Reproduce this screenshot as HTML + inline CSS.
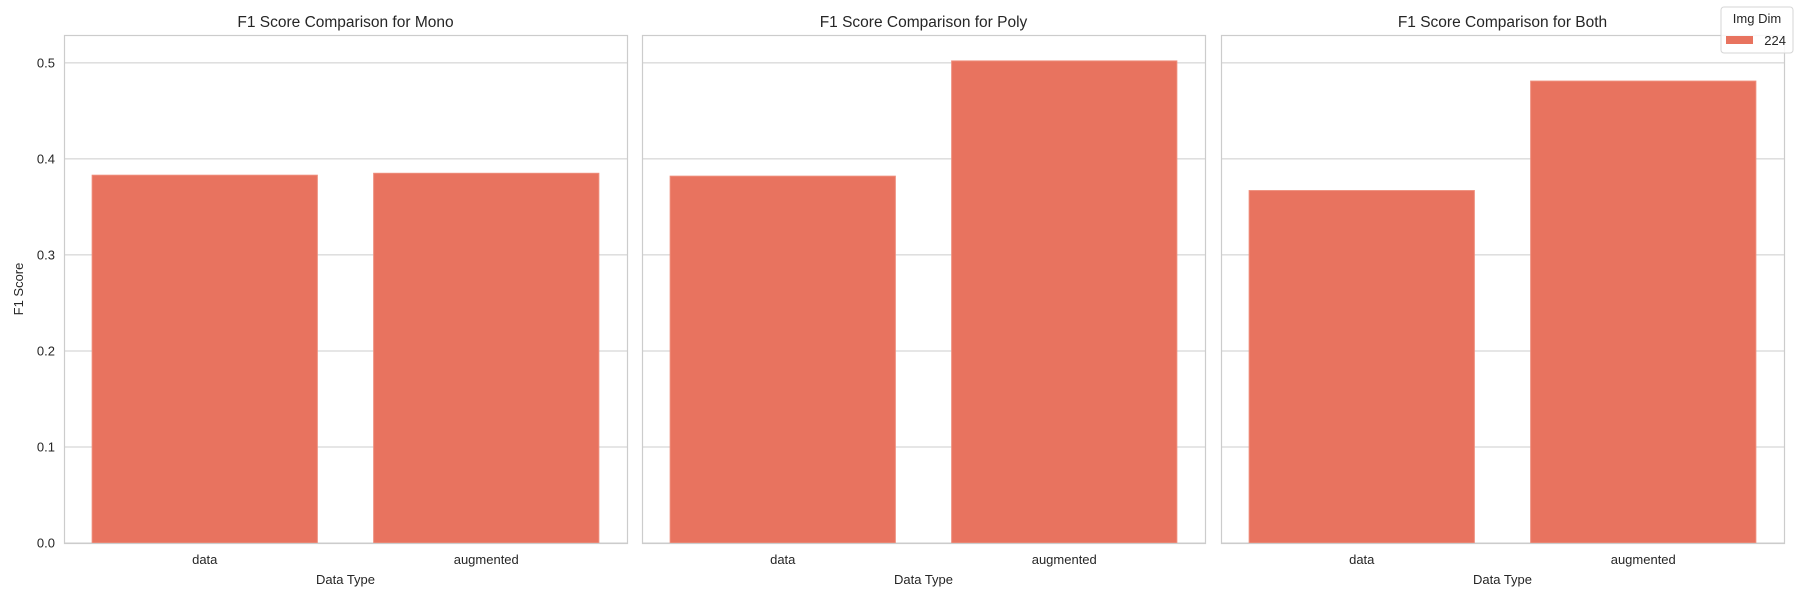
<!DOCTYPE html>
<html><head><meta charset="utf-8"><style>
body{margin:0;background:#fff;}
svg{display:block;font-family:"Liberation Sans",Arial,sans-serif;fill:#262626;}
</style></head><body>
<svg id="chart" width="1800" height="600" xmlns="http://www.w3.org/2000/svg"></svg>
<script>
const panels = ["Mono", "Poly", "Both"];
const categories = ["data", "augmented"];
const monoValues = [0.383, 0.385];
const polyValues = [0.382, 0.502];
const bothValues = [0.367, 0.481];
const yTicks = [0.0, 0.1, 0.2, 0.3, 0.4, 0.5];
const yTickLabels = ["0.0", "0.1", "0.2", "0.3", "0.4", "0.5"];
const seriesValues = [monoValues, polyValues, bothValues];

const svg = document.getElementById('chart');
const NS = 'http://www.w3.org/2000/svg';
const panelLeft = [64, 642, 1221];
const panelW = 563, yTop = 35, yBottom = 543, yMax = 0.529;
function yScale(v){ return yBottom - v / yMax * (yBottom - yTop); }
function xBand(p, i){ return panelLeft[p] + (i + 0.5) * panelW / categories.length; }
function mk(tag, attrs, text){
  const e = document.createElementNS(NS, tag);
  for (const k in attrs) e.setAttribute(k, attrs[k]);
  if (text !== undefined) e.textContent = text;
  svg.appendChild(e);
  return e;
}
panels.forEach((name, p) => {
  const x0 = panelLeft[p];
  yTicks.forEach((t, k) => {
    const g = mk('line', {x1:x0, x2:x0+panelW, y1:yScale(t), y2:yScale(t), stroke:'#cccccc', 'stroke-width':1});
    
    
    if (p === 0) {
      const l = mk('text', {x:x0-9, y:yScale(t)+4.5, 'text-anchor':'end', 'font-size':13}, yTickLabels[k]);
      
      
    }
  });
  const bw = panelW / categories.length * 0.8;
  seriesValues[p].forEach((v, i) => {
    const b = mk('rect', {x:xBand(p,i)-bw/2, y:yScale(v), width:bw, height:yScale(0)-yScale(v), fill:'#e8735f', stroke:'#ee8c7a', 'stroke-width':1});
    
    
    const tl = mk('text', {x:xBand(p,i), y:yBottom+21, 'text-anchor':'middle', 'font-size':13}, categories[i]);
    
    
  });
  const fr = mk('rect', {x:x0+0.5, y:yTop+0.5, width:panelW, height:yBottom-yTop, fill:'none', stroke:'#cccccc', 'stroke-width':1.2});
  
  
  const ti = mk('text', {x:x0+panelW/2, y:27, 'text-anchor':'middle', 'font-size':15.5}, 'F1 Score Comparison for ' + name);
  
  
  const xl = mk('text', {x:x0+panelW/2, y:584, 'text-anchor':'middle', 'font-size':13}, 'Data Type');
  
  
});
const yl = mk('text', {x:23, y:(yTop+yBottom)/2, 'text-anchor':'middle', 'font-size':13, transform:'rotate(-90 23 '+((yTop+yBottom)/2)+')'}, 'F1 Score');


const lb = mk('rect', {x:1721, y:7, width:72, height:46, rx:3, fill:'#fff', 'fill-opacity':0.85, stroke:'#d6d6d6', 'stroke-width':1});


const lt = mk('text', {x:1757, y:23, 'text-anchor':'middle', 'font-size':13}, 'Img Dim');


const lp = mk('rect', {x:1726, y:36, width:27, height:8, fill:'#e8735f'});


const le = mk('text', {x:1786, y:45, 'text-anchor':'end', 'font-size':13}, '224');


</script>
</body></html>
